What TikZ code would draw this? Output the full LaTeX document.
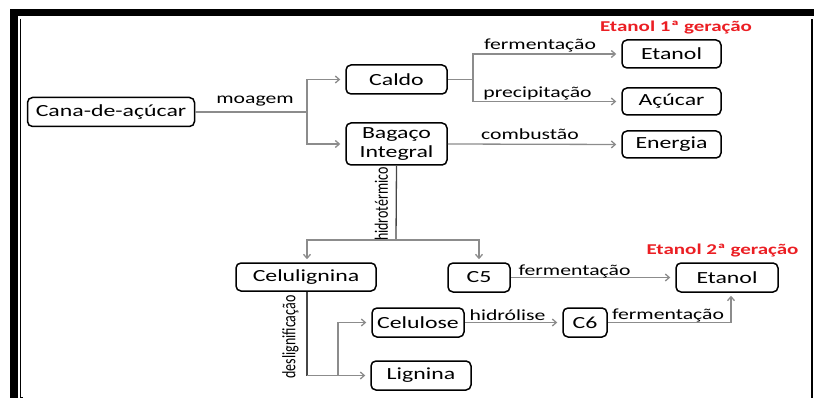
\documentclass[tikz,border=0pt]{standalone}
\usepackage{fontspec}
\setmainfont{Carlito}[FakeStretch=1.4]
\newfontfamily\rotfont{Carlito}
\usetikzlibrary{arrows.meta}
\definecolor{conn}{RGB}{140,140,140}
\definecolor{dconn}{RGB}{70,70,70}
\definecolor{gen}{RGB}{235,30,35}
\newcommand{\tallrot}[1]{\scalebox{1}[1.35]{#1}}
\begin{document}
\begin{tikzpicture}[x=1pt,y=-1pt,
  box/.style={draw=black,line width=1.5pt,rounded corners=5pt,inner sep=0pt,
    font=\fontsize{17}{19}\selectfont,align=center},
  lbl/.style={inner sep=0pt,font=\fontsize{15.5}{17}\selectfont},
  rlbl/.style={inner sep=0pt,rotate=90,font=\rotfont\fontsize{14}{16}\selectfont},
  glbl/.style={inner sep=0pt,text=gen,font=\fontsize{15}{17}\selectfont\bfseries},
  arr/.style={draw=conn,line width=1.3pt,-{Straight Barb[length=4pt,width=7pt]},shorten >=5pt},
  ln/.style={draw=conn,line width=1.3pt},
  dln/.style={draw=dconn,line width=1.3pt}]
\useasboundingbox (0,0) rectangle (814,398);
% frame
\fill[black] (10,9) rectangle (814,16.5);
\fill[black] (10,9) rectangle (17.5,398);
\draw[black,line width=1pt] (20.5,19) -- (20.5,397) -- (22.5,397);
\draw[black,line width=2pt] (811.5,19) -- (811.5,398);
% nodes
\node[box,minimum width=167pt,minimum height=29pt] (cana) at (111,112) {Cana-de-açúcar};
\node[box,minimum width=101pt,minimum height=29pt] (caldo) at (396.5,79.5) {Caldo};
\node[box,minimum width=101pt,minimum height=42pt] (bagaco) at (396.5,144) {Bagaço\\Integral};
\node[box,minimum width=99pt,minimum height=28pt] (etanol1) at (671.5,54) {Etanol};
\node[box,minimum width=99pt,minimum height=27pt] (acucar) at (671.5,101.5) {Açúcar};
\node[box,minimum width=99pt,minimum height=27pt] (energia) at (671.5,144.5) {Energia};
\node[box,minimum width=140pt,minimum height=28pt] (celulig) at (306,277) {Celulignina};
\node[box,minimum width=62pt,minimum height=29pt] (c5) at (479,277.5) {C5};
\node[box,minimum width=102pt,minimum height=29pt] (etanol2) at (727,277.5) {Etanol};
\node[box,minimum width=92pt,minimum height=29pt] (celulose) at (418,322.5) {Celulose};
\node[box,minimum width=100pt,minimum height=29pt] (lignina) at (421,375.5) {Lignina};
\node[box,minimum width=44pt,minimum height=29pt] (c6) at (585,322.5) {C6};
% junction coordinates
\coordinate (jm) at (307,112);
\coordinate (jc) at (473,79.5);
\coordinate (jh) at (396,240);
\coordinate (jd) at (307,375.5);
\coordinate (jl) at (338,375.5);
\coordinate (je) at (731,322.5);
% connectors
\draw[ln] (cana.east) -- (jm);
\draw[arr] (jm) |- (caldo.west);
\draw[arr] (jm) |- (bagaco.west);
\draw[ln] (caldo.east) -- (jc);
\draw[arr] (jc) |- (etanol1.west);
\draw[arr] (jc) |- (acucar.west);
\draw[arr] (bagaco.east) -- (energia.west);
\draw[dln] (bagaco.south) -- (jh);
\draw[arr,shorten >=3pt] (jh) -| (celulig.north -| jm);
\draw[arr,shorten >=3pt] (jh) -| (c5.north);
\draw[dln] (celulig.south -| jm) -- (jd);
\draw[arr] (jd) -- (lignina.west);
\draw[arr] (jl) |- (celulose.west);
\draw[arr] (celulose.east) -- (c6.west);
\draw[arr] (c5.east) -- (etanol2.west);
\draw[ln] (c6.east) -- (je);
\draw[arr,shorten >=3pt] (je) -- (etanol2.south -| je);
% labels
\node[lbl] (lmoagem) at (255,101) {moagem};
\node[lbl] (lferm1) at (540,45) {fermentação};
\node[lbl] (lprec) at (537.5,93) {precipitação};
\node[lbl] (lcomb) at (530,134) {combustão};
\node[glbl] (lgen1) at (676,28) {Etanol 1ª geração};
\node[rlbl] (lhidro) at (381.5,204) {\tallrot{hidrotérmico}};
\node[rlbl] (ldeslig) at (290.5,337) {\tallrot{deslignificação}};
\node[lbl] (lhidrol) at (507.5,315) {hidrólise};
\node[lbl] (lferm2) at (574.5,271) {fermentação};
\node[lbl] (lferm3) at (668,315) {fermentação};
\node[glbl] (lgen2) at (722.5,251) {Etanol 2ª geração};
\end{tikzpicture}
\end{document}
